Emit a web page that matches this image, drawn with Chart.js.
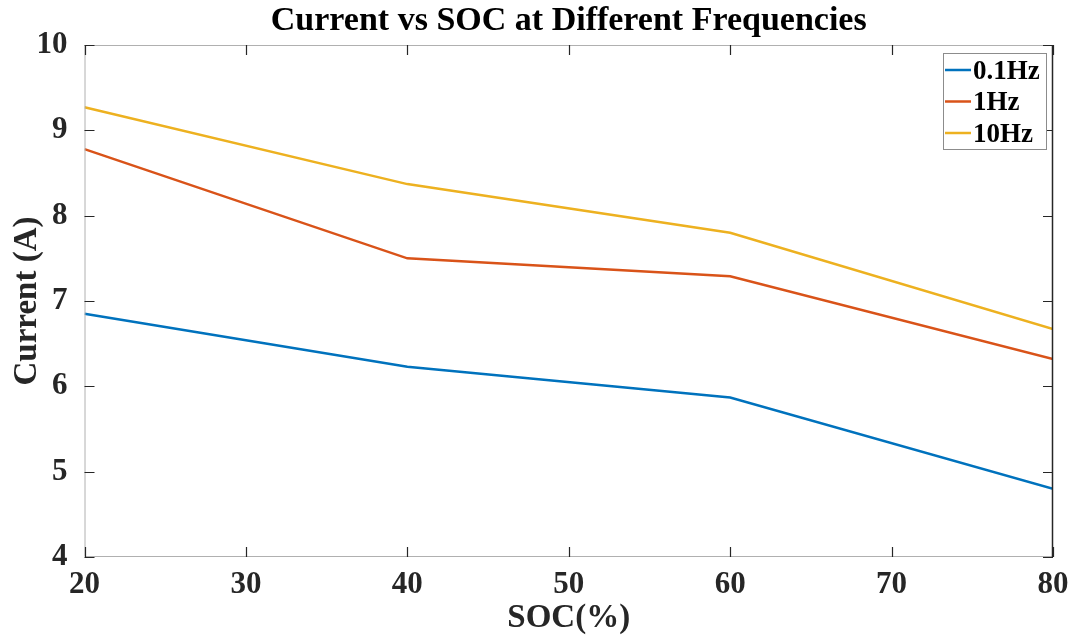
<!DOCTYPE html>
<html>
<head>
<meta charset="utf-8">
<script src="https://cdn.jsdelivr.net/npm/chart.js@4/dist/chart.umd.min.js"></script>
<style>
  html, body { margin: 0; padding: 0; background: #fff; }
  #wrap { width: 1074px; height: 642px; }
</style>
</head>
<body>
<div id="wrap"><canvas id="chart"></canvas></div>
<script>
const soc = [20, 40, 60, 80];
const labels = ['0.1Hz', '1Hz', '10Hz'];
const current01 = [6.85, 6.23, 5.87, 4.80];
const current1 = [8.78, 7.50, 7.29, 6.32];
const current10 = [9.27, 8.37, 7.80, 6.67];
const colors = ['#0072BD', '#D95319', '#EDB120'];
const xTicks = [20, 30, 40, 50, 60, 70, 80];
const yTicks = [4, 5, 6, 7, 8, 9, 10];
const chartTitle = 'Current vs SOC at Different Frequencies';

const serif = '"Liberation Serif", "Times New Roman", serif';
const ink = '#262626';

function toPoints(ys) {
	return soc.map((x, i) => ({ x: x, y: ys[i] }));
}

// box with inward ticks, matlab style, plus title and legend
const boxPlugin = {
	id: 'box',
	afterDraw(chart) {
		const ctx = chart.ctx;
		const a = chart.chartArea;
		const xs = chart.scales.x, ys = chart.scales.y;
		const len = 10;
		ctx.save();
		ctx.lineWidth = 1;
		ctx.strokeStyle = '#b0b0b0';
		ctx.beginPath();
		ctx.moveTo(a.right, a.top + 0.5);
		ctx.lineTo(a.left + 0.5, a.top + 0.5);
		ctx.lineTo(a.left + 0.5, a.bottom - 0.5);
		ctx.lineTo(a.right, a.bottom - 0.5);
		ctx.stroke();
		ctx.strokeStyle = ink;
		ctx.lineWidth = 1.5;
		ctx.beginPath();
		ctx.moveTo(a.right - 0.5, a.top);
		ctx.lineTo(a.right - 0.5, a.bottom);
		ctx.stroke();
		ctx.lineWidth = 1.2;
		ctx.beginPath();
		xTicks.forEach(v => {
			const px = Math.round(xs.getPixelForValue(v)) + 0.5;
			ctx.moveTo(px, a.bottom); ctx.lineTo(px, a.bottom - len);
			ctx.moveTo(px, a.top); ctx.lineTo(px, a.top + len);
		});
		yTicks.forEach(v => {
			const py = Math.round(ys.getPixelForValue(v)) + 0.5;
			ctx.moveTo(a.left, py); ctx.lineTo(a.left + len, py);
			ctx.moveTo(a.right, py); ctx.lineTo(a.right - len, py);
		});
		ctx.stroke();

		// title centred over the axes
		ctx.fillStyle = '#000';
		ctx.font = 'bold 34px ' + serif;
		ctx.textAlign = 'center';
		ctx.textBaseline = 'middle';
		ctx.fillText(chartTitle, (a.left + a.right) / 2, 21);

		// legend, top right inside the axes
		const bx = a.right - 110, by = a.top + 8, bw = 103, bh = 96;
		ctx.fillStyle = '#fff';
		ctx.fillRect(bx, by, bw, bh);
		ctx.strokeStyle = '#8c8c8c';
		ctx.lineWidth = 1;
		ctx.strokeRect(bx + 0.5, by + 0.5, bw, bh);
		ctx.font = 'bold 27px ' + serif;
		ctx.textAlign = 'left';
		chart.data.datasets.forEach((ds, i) => {
			const cy = by + 17 + i * 31.5;
			ctx.strokeStyle = ds.borderColor;
			ctx.lineWidth = 2.5;
			ctx.beginPath();
			ctx.moveTo(bx + 2, cy); ctx.lineTo(bx + 28, cy);
			ctx.stroke();
			ctx.fillStyle = '#000';
			ctx.fillText(ds.label, bx + 30, cy + 2);
		});
		ctx.restore();
	}
};

new Chart(document.getElementById('chart'), {
	type: 'line',
	data: {
		datasets: [
			{ label: labels[0], data: toPoints(current01), borderColor: colors[0] },
			{ label: labels[1], data: toPoints(current1), borderColor: colors[1] },
			{ label: labels[2], data: toPoints(current10), borderColor: colors[2] }
		]
	},
	options: {
		responsive: true,
		maintainAspectRatio: false,
		animation: false,
		layout: { padding: { left: 0, right: 21, top: 45, bottom: 0 } },
		elements: {
			line: { borderWidth: 2.5, tension: 0, fill: false },
			point: { radius: 0 }
		},
		plugins: {
			legend: { display: false },
			tooltip: { enabled: false },
			title: { display: false }
		},
		scales: {
			x: {
				type: 'linear',
				min: 20, max: 80,
				afterFit: s => { s.height = 85; },
				afterBuildTicks: s => { s.ticks = xTicks.map(v => ({ value: v })); },
				grid: { display: false },
				border: { display: false },
				ticks: {
					color: ink,
					padding: 1,
					maxRotation: 0,
					font: { family: serif, size: 31, weight: 'bold' }
				},
				title: {
					display: true,
					text: 'SOC(%)',
					color: ink,
					font: { family: serif, size: 33, weight: 'bold' },
					padding: { top: 0, bottom: 4 }
				}
			},
			y: {
				min: 4, max: 10,
				afterFit: s => { s.width = 84.5; },
				afterBuildTicks: s => { s.ticks = yTicks.map(v => ({ value: v })); },
				grid: { display: false },
				border: { display: false },
				ticks: {
					color: ink,
					padding: 9,
					font: { family: serif, size: 31, weight: 'bold' }
				},
				title: {
					display: true,
					text: 'Current (A)',
					color: ink,
					font: { family: serif, size: 33, weight: 'bold' },
					padding: { top: 8, bottom: 0 }
				}
			}
		}
	},
	plugins: [boxPlugin]
});
</script>
</body>
</html>
